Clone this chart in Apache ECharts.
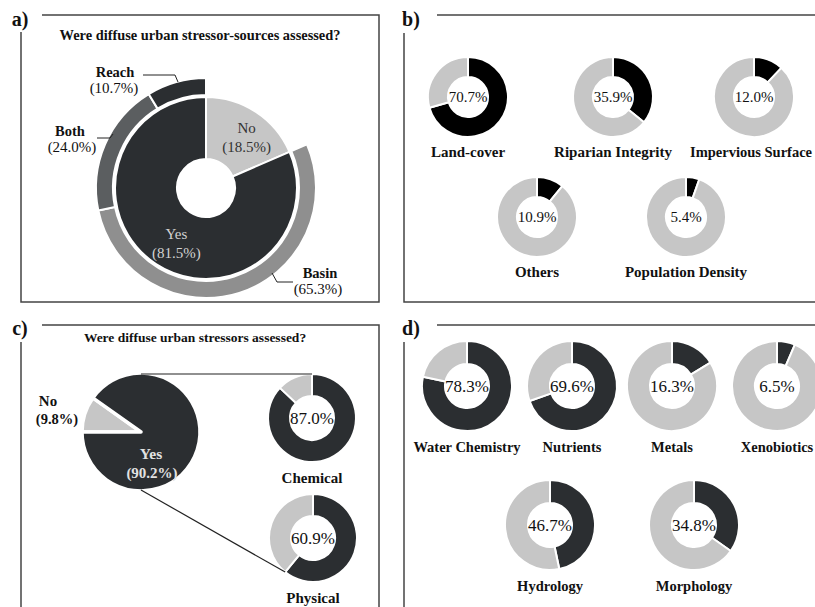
<!DOCTYPE html>
<html><head><meta charset="utf-8">
<script src="https://cdn.jsdelivr.net/npm/echarts@6/dist/echarts.min.js"></script>
<style>html,body{margin:0;padding:0;background:#fff}#c{width:815px;height:607px}</style>
</head><body><div id="c"></div>
<script>
// ---------- data ----------
// Panel a: Were diffuse urban stressor-sources assessed?
const aInnerCats = ['No', 'Yes'];
const aInnerVals = [18.5, 81.5];
const aOuterCats = ['Basin', 'Both', 'Reach'];
const aOuterVals = [65.3, 24.0, 10.7];           // % of "Yes"
// Panel b: stressor-source types
const bCats = ['Land-cover', 'Riparian Integrity', 'Impervious Surface', 'Others', 'Population Density'];
const bVals = [70.7, 35.9, 12.0, 10.9, 5.4];
// Panel c: Were diffuse urban stressors assessed?
const cCats = ['No', 'Yes'];
const cVals = [9.8, 90.2];
const cSubCats = ['Chemical', 'Physical'];
const cSubVals = [87.0, 60.9];
// Panel d: stressor types
const dCats = ['Water Chemistry', 'Nutrients', 'Metals', 'Xenobiotics', 'Hydrology', 'Morphology'];
const dVals = [78.3, 69.6, 16.3, 6.5, 46.7, 34.8];

// ---------- layout / style ----------
const FONT = 'Liberation Serif';
const DARK = '#2b2e31', BLACK = '#000000', LIGHT = '#c6c6c6', MID = '#8f8f8f', DGRAY = '#5b5e60';
const LINE = '#444';
const aCenter = [206, 188], aR = [29, 91], aOuterR = [93, 110];
const bPos = [[468, 97], [613, 97], [754, 97], [537, 217], [686, 217]];
const bLabelX = [468, 613, 751, 537, 686];
const bR = [20, 40], bLabelDy = 55;
const cCenter = [141, 432], cR = 59;
const cSubPos = [[312, 418], [313, 538]], cSubR = [22, 44], cSubLabelDy = 60;
const dPos = [[467, 386], [572, 386], [672, 386], [777, 386], [550, 525], [694, 525]];
const dR = [22, 45], dLabelDy = 61;

const pct = v => v.toFixed(1) + '%';
const series = [];
const graphic = [];

function txt(x, y, text, size, bold, color) {
  graphic.push({
    type: 'text', x: x, y: y, silent: true, z: 10,
    style: { text: text, fontFamily: FONT, fontSize: size, fontWeight: bold ? 'bold' : 'normal',
             fill: color || '#111', align: 'center', verticalAlign: 'middle' }
  });
}
function poly(points, color, w) {
  graphic.push({ type: 'polyline', silent: true, z: 5, shape: { points: points },
                 style: { stroke: color || LINE, lineWidth: w || 1.5, fill: null } });
}
function donut(center, radius, value, onColor, name, labelX, labelDy, pctSize, nameSize) {
  series.push({
    type: 'pie', center: center, radius: radius, startAngle: 90, clockwise: true,
    silent: true, animation: false, emphasis: { disabled: true },
    itemStyle: { borderColor: '#fff', borderWidth: 2 },
    label: { show: false },
    labelLine: { show: false },
    data: [
      { name: name, value: value, itemStyle: { color: onColor },
        label: { show: true, position: 'center', formatter: pct(value), fontFamily: FONT,
                 fontSize: pctSize, color: '#111' } },
      { name: 'not ' + name, value: +(100 - value).toFixed(1), itemStyle: { color: LIGHT } }
    ]
  });
  txt(labelX, center[1] + labelDy, name, nameSize, true, '#111');
}

// ---------- panel a ----------
series.push({
  type: 'pie', center: aCenter, radius: aR, startAngle: 90, clockwise: true,
  silent: true, animation: false, emphasis: { disabled: true },
  itemStyle: { borderColor: '#fff', borderWidth: 2 },
  label: { show: true, position: 'inside', fontFamily: FONT, fontSize: 15, lineHeight: 19,
           formatter: p => p.name + '\n(' + pct(p.value) + ')' },
  labelLayout: p => (p.dataIndex === 0 ? { dx: 6, dy: 2 } : { dx: 5, dy: 3 }),
  labelLine: { show: false },
  data: aInnerCats.map((n, i) => ({
    name: n, value: aInnerVals[i],
    itemStyle: { color: n === 'No' ? LIGHT : DARK },
    label: { color: n === 'No' ? '#333' : '#d2d2d2' }
  }))
});
const outerColors = { Basin: MID, Both: DGRAY, Reach: DARK };
series.push({
  type: 'pie', center: aCenter, radius: aOuterR, startAngle: 90, clockwise: true,
  silent: true, animation: false, emphasis: { disabled: true },
  itemStyle: { borderColor: '#fff', borderWidth: 2 },
  label: { show: false }, labelLine: { show: false },
  data: [{ name: 'gap', value: aInnerVals[0], itemStyle: { color: 'rgba(0,0,0,0)', borderWidth: 0 } }]
    .concat(aOuterCats.map((n, i) => ({
      name: n, value: aOuterVals[i] * aInnerVals[1] / 100, itemStyle: { color: outerColors[n] }
    })))
});
const aLabelPos = { Reach: [[115, 72], [114, 88]], Both: [[70, 131], [72, 147]], Basin: [[320, 273], [318, 289]] };
aOuterCats.forEach((n, i) => {
  const p = aLabelPos[n];
  txt(p[0][0], p[0][1], n, 14.5, true, '#111');
  txt(p[1][0], p[1][1], '(' + pct(aOuterVals[i]) + ')', 15, false, '#111');
});
poly([[143, 75], [175, 75], [178, 82]], '#222', 1);
poly([[97, 138], [110, 138], [113, 134]], '#222', 1);
poly([[272, 273], [277, 282], [293, 282]], '#222', 1);
txt(200, 35, 'Were diffuse urban stressor-sources assessed?', 14.4, true, '#111');

// ---------- panel b ----------
bCats.forEach((n, i) => donut(bPos[i], bR, bVals[i], BLACK, n, bLabelX[i], bLabelDy, 15, i === 2 ? 14.5 : 15));

// ---------- panel c ----------
series.push({
  type: 'pie', center: cCenter, radius: [0, cR], startAngle: 180, clockwise: true,
  silent: true, animation: false, emphasis: { disabled: true },
  itemStyle: { borderColor: '#fff', borderWidth: 3.5 },
  label: { show: false }, labelLine: { show: false },
  data: cCats.map((n, i) => ({ name: n, value: cVals[i], itemStyle: { color: n === 'No' ? LIGHT : DARK } }))
});
txt(48, 401, cCats[0], 15, true, '#111');
txt(57, 419, '(' + pct(cVals[0]) + ')', 14.5, true, '#111');
txt(151, 453, cCats[1], 15.5, true, '#e2e2e2');
txt(152, 473, '(' + pct(cVals[1]) + ')', 15, true, '#e2e2e2');
cSubCats.forEach((n, i) => donut(cSubPos[i], cSubR, cSubVals[i], DARK, n, cSubPos[i][0], cSubLabelDy, 17, 15));
// connectors from the pie to the sub-donuts
(function () {
  const top = [cCenter[0], cCenter[1] - cR + 1];
  const bot = [cCenter[0], cCenter[1] + cR - 1];
  const ch = cSubPos[0], ph = cSubPos[1];
  const chTop = [ch[0], ch[1] - cSubR[1]];
  const ang = cSubVals[1] / 100 * 2 * Math.PI;
  const phPt = [ph[0] + cSubR[1] * Math.sin(ang), ph[1] - cSubR[1] * Math.cos(ang)];
  poly([top, chTop], '#222', 1.2);
  poly([bot, phPt], '#222', 1.2);
})();
txt(195, 337, 'Were diffuse urban stressors assessed?', 13.5, true, '#111');

// ---------- panel d ----------
dCats.forEach((n, i) => donut(dPos[i], dR, dVals[i], DARK, n, dPos[i][0], dLabelDy, 17, 14.5));

// ---------- frames and panel letters ----------
poly([[42, 15], [379, 15], [379, 302], [21, 302], [21, 32]]);
poly([[437, 15], [815, 15]]);
poly([[404, 33], [404, 302], [815, 302]]);
poly([[42, 325], [379, 325], [379, 607]]);
poly([[21, 342], [21, 607]]);
poly([[437, 325], [815, 325]]);
poly([[404, 342], [404, 607]]);
txt(20, 19, 'a)', 20, true, '#111');
txt(411, 19, 'b)', 20, true, '#111');
txt(20, 328, 'c)', 20, true, '#111');
txt(411, 328, 'd)', 20, true, '#111');

const chart = echarts.init(document.getElementById('c'), null, { renderer: 'svg' });
chart.setOption({ backgroundColor: '#fff', animation: false, series: series, graphic: graphic });
</script></body></html>
